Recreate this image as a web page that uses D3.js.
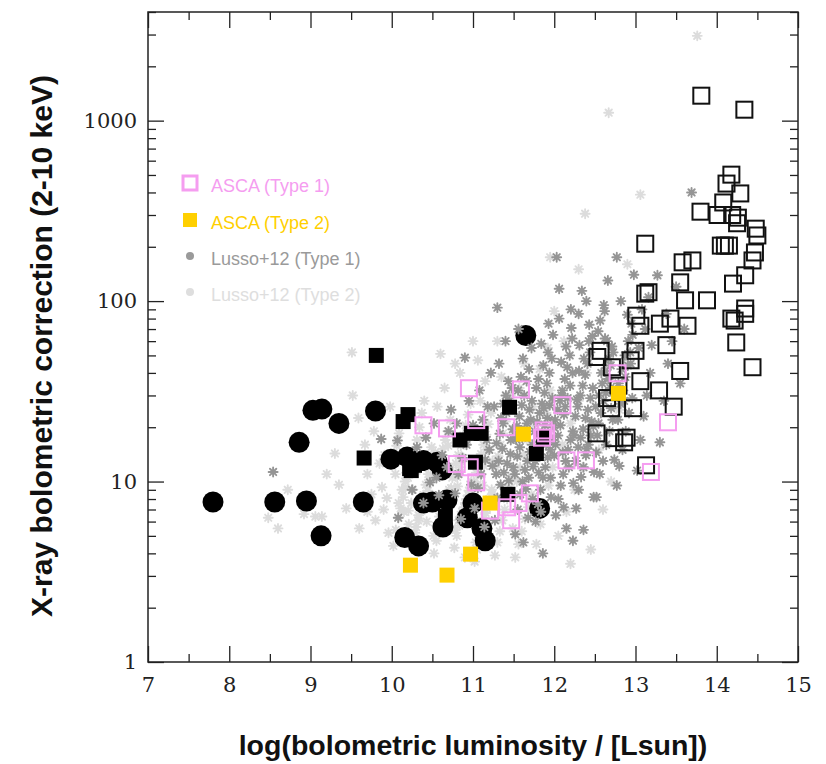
<!DOCTYPE html>
<html><head><meta charset="utf-8">
<script src="https://cdn.jsdelivr.net/npm/d3@7"></script>
<style>body{margin:0;background:#fff}svg{display:block}</style>
</head><body>
<svg id="c" width="826" height="764"></svg>
<script>
// ---------- data ----------
const xTicks = [7,8,9,10,11,12,13,14,15];
const yTicks = [1,10,100,1000];
const legendLabels = ["ASCA (Type 1)","ASCA (Type 2)","Lusso+12 (Type 1)","Lusso+12 (Type 2)"];

// Lusso+12 type 1 (dark grey asterisks)
const lussoType1 = [
[8.54,11.3],[9.87,17.2],[10.07,16.9],[10.08,6.3],
[10.25,9.0],[10.31,15.5],[10.39,7.6],[10.47,9.9],[10.42,17.5],
[10.55,10.5],[10.62,14],[10.7,19],[10.58,8.4],[10.68,12],[10.73,25],[10.52,21],
[10.78,8.6],[10.82,11],[10.87,13.5],[10.92,16],[10.8,21],[10.95,28],[10.9,48.6],[10.85,6.2],[10.98,9.6],[10.93,18.5],
[11.02,7.1],[11.06,9.2],[11.1,11],[11.15,13.2],[11.2,15],[11.04,18],[11.12,22],[11.18,26],[11.08,32],[11.22,40],[11.14,5.6],[11.24,12.2],[11.0,20.5],[11.17,17],
[11.27,6.1],[11.3,8.1],[11.34,9.6],[11.38,11.2],[11.42,12.6],[11.46,14.2],[11.29,16.3],[11.33,18.4],[11.37,21],[11.41,24],[11.45,28],[11.48,33],[11.32,45],[11.4,60],[11.3,92],[11.44,10.1],[11.36,15.2],[11.49,19.5],[11.26,26],
[11.285,11],[11.315,13],[11.345,22.5],[11.375,27],[11.405,30],[11.435,36],[11.465,17],[11.495,12],
[11.52,5.1],[11.55,7.0],[11.58,8.5],[11.61,10],[11.64,11.6],[11.67,13],[11.7,14.6],[11.73,16],[11.51,18.2],[11.54,20.3],[11.57,23],[11.6,26.5],[11.63,30],[11.66,36],[11.69,42],[11.72,55],[11.56,70],[11.65,9.1],[11.74,12.1],[11.53,17.1],[11.71,22],[11.62,4.6],[11.68,6.3],[11.59,38],
[11.515,11],[11.545,13.8],[11.575,15.5],[11.605,17.5],[11.635,19.5],[11.665,21],[11.695,25],[11.725,28],[11.555,32],[11.615,48],[11.685,10.5],[11.735,8],
[11.77,6.0],[11.8,7.5],[11.83,9.0],[11.86,10.5],[11.89,12],[11.92,13.6],[11.95,15],[11.98,17],[11.76,19],[11.79,21.5],[11.82,24],[11.85,27],[11.88,31],[11.91,35],[11.94,40],[11.97,48],[11.84,58],[11.93,75],[11.81,11.2],[11.9,16],[11.99,20],[11.87,25.5],[11.86,4.0],[11.96,8.2],[11.78,33],
[11.765,13],[11.795,14.5],[11.825,16.5],[11.855,18.5],[11.885,20.5],[11.915,22.5],[11.945,26.5],[11.975,29],[11.805,37],[11.865,44],[11.925,52],[11.985,65],[11.835,6.8],[11.955,10.5],
[12.02,6.5],[12.05,8],[12.08,9.5],[12.11,11],[12.14,13],[12.17,15],[12.2,17],[12.23,19],[12.01,22],[12.04,25],[12.07,28],[12.1,32],[12.13,37],[12.16,43],[12.19,50],[12.22,62],[12.06,80],[12.06,117],[12.03,175],[12.18,12],[12.24,18],[12.12,23.5],[12.09,30],[12.23,4.7],[12.15,5.5],[12.21,71],[12.0,13.9],
[12.015,16],[12.045,18],[12.075,20.5],[12.105,14.5],[12.135,26],[12.165,29],[12.195,34],[12.225,40],[12.085,46],[12.145,56],[12.205,90],[12.115,7.2],[12.235,9.8],
[12.27,7.1],[12.3,9],[12.33,10.6],[12.36,12],[12.39,14],[12.42,16],[12.45,18],[12.48,20.2],[12.26,23],[12.29,26],[12.32,30],[12.35,34],[12.38,39],[12.41,45],[12.44,52],[12.47,64],[12.3,85],[12.34,114],[12.4,15.2],[12.46,21.5],[12.28,28.5],[12.36,5.4],[12.49,11.3],[12.31,57],[12.43,74],
[12.265,13],[12.295,15.5],[12.325,17.5],[12.355,19.5],[12.385,22.5],[12.415,25],[12.445,29],[12.475,33],[12.305,41],[12.365,48],[12.425,60],[12.485,8.2],[12.395,100],
[12.52,8.2],[12.56,11],[12.6,13],[12.64,16],[12.68,19],[12.72,22],[12.51,26],[12.55,30],[12.59,35],[12.63,41],[12.67,48],[12.71,56],[12.54,68],[12.61,95],[12.66,130],[12.7,25.5],[12.58,40],[12.74,13.2],[12.65,60],[12.53,18],[12.69,33],[12.62,88],[12.77,175],
[12.515,14.5],[12.545,21],[12.575,24],[12.605,28],[12.635,31],[12.665,37],[12.695,44],[12.725,52],[12.565,78],[12.625,62],[12.745,30],
[12.77,9.5],[12.8,12.2],[12.84,15],[12.88,19],[12.92,24],[12.96,29],[12.79,35],[12.83,42],[12.87,50],[12.91,60],[12.95,75],[12.82,100],[12.98,140],[12.86,28],[12.94,45],[12.9,84],
[12.785,22],[12.815,27],[12.845,32],[12.875,38],[12.905,44],[12.935,52],[12.965,65],
[13.02,11.5],[13.06,17],[13.1,23],[13.14,30],[13.18,40],[13.04,55],[13.12,70],[13.08,90],[13.27,139],[13.2,57],[13.16,105],
[13.3,16.5],[13.35,28],[13.4,45],[13.45,60],[13.38,85],[13.69,400],[13.55,35],[13.6,70],[13.5,120]
];

// Lusso+12 type 2 (light grey asterisks)
const lussoType2 = [
[8.48,6.3],[8.72,9.0],[8.92,6.6],[8.6,5.5],
[9.06,6.4],[9.14,6.4],[9.3,14.3],[9.51,52],[9.35,9.6],[9.44,7.1],[9.2,11],
[9.52,30],[9.59,22.5],[9.67,16],[9.8,6.1],[9.88,9.3],[9.94,8.1],[9.7,11],[9.85,12.6],[9.6,5.5],[9.96,5.2],[9.75,8.5],[9.91,14],[9.78,19],[9.98,26],[9.9,7],[9.7,6.8],
[10.02,4.4],[10.05,5.4],[10.08,6.3],[10.11,7.1],[10.14,8.2],[10.17,9.3],[10.2,10.5],[10.23,12],[10.03,13.5],[10.06,15.8],[10.09,18.5],[10.12,22],[10.15,6.8],[10.18,11.2],[10.21,5.8],[10.24,7.6],
[10.085,7.6],[10.125,9],[10.165,10],[10.205,6.9],[10.045,11],
[10.27,4.8],[10.3,5.6],[10.33,6.5],[10.36,7.3],[10.39,8.4],[10.42,9.6],[10.45,11],[10.48,12.5],[10.28,14.5],[10.31,17],[10.34,20],[10.37,24],[10.4,28],[10.43,6],[10.46,10.2],[10.49,15.5],[10.35,4.2],[10.26,9],
[10.285,5.2],[10.325,6.1],[10.365,6.9],[10.405,7.9],[10.445,8.9],[10.485,10.5],[10.305,11.5],[10.345,13],
[10.52,4.0],[10.55,4.7],[10.58,5.3],[10.61,6],[10.64,6.7],[10.67,7.5],[10.7,8.3],[10.73,9.2],[10.51,10.2],[10.54,11.3],[10.57,12.5],[10.6,13.8],[10.63,15.2],[10.66,17],[10.69,19],[10.72,22],[10.56,26],[10.6,51],[10.65,33],[10.74,5.5],[10.53,7.8],[10.71,12],
[10.515,5.0],[10.545,5.7],[10.585,6.4],[10.625,7.1],[10.665,8],[10.705,9],[10.745,10.5],[10.535,14.5],[10.615,11.5],[10.695,15.8],
[10.77,4.3],[10.8,5.0],[10.83,5.7],[10.86,6.4],[10.89,7.2],[10.92,8.0],[10.95,8.9],[10.98,10],[10.76,11.2],[10.79,12.6],[10.82,14],[10.85,15.8],[10.88,18],[10.91,20.5],[10.94,23.5],[10.97,27],[10.84,40],[10.78,45],[10.9,3.8],[10.99,6],[10.81,9.4],
[10.785,5.4],[10.825,6.1],[10.865,6.8],[10.905,7.6],[10.945,8.4],[10.985,9.4],[10.805,10.6],[10.845,12],[10.885,13.5],[10.925,17],
[11.02,3.6],[11.05,4.2],[11.08,4.9],[11.11,5.6],[11.14,6.3],[11.17,7.1],[11.2,8],[11.23,9],[11.01,10],[11.04,11.2],[11.07,12.6],[11.1,14.2],[11.13,16],[11.16,18.2],[11.19,20.8],[11.22,24],[11.09,28],[11.15,36],[11.06,47],[11.24,13],[11.12,9.5],
[11.035,4.6],[11.075,5.3],[11.115,6],[11.155,6.7],[11.195,7.5],[11.235,8.5],[11.055,9.6],[11.095,10.8],[11.135,12.2],[11.175,15],
[11.27,3.9],[11.3,4.6],[11.33,5.3],[11.36,6.1],[11.39,7],[11.42,8],[11.45,9.2],[11.48,10.5],[11.28,12],[11.31,13.8],[11.34,16],[11.37,18.5],[11.4,21.5],[11.43,25],[11.46,30],[11.35,38],[11.3,60],[11.49,5.5],
[11.52,3.8],[11.56,4.5],[11.6,5.3],[11.64,6.2],[11.68,7.2],[11.72,8.5],[11.54,10],[11.58,12],[11.62,14],[11.66,17],[11.7,21],[11.74,26],[11.57,33],[11.63,45],
[11.78,4.5],[11.83,5.8],[11.88,7.5],[11.93,9.5],[11.98,12],[11.8,15],[11.85,19],[11.9,24],[11.95,32],[11.82,42],[11.92,55],
[12.05,5],[12.15,6.8],[12.25,9],[12.35,12],[12.1,16],[12.2,21],[12.3,28],[12.4,40],[12.12,60],[12.45,4.2],[12.0,88],[12.2,3.5],
[12.6,7],[12.7,10],[12.55,15],[12.8,25],[12.65,45],
[13.76,2950],[12.67,1107],[13.06,389],[12.38,305],[11.95,175],[12.3,150],[11.0,60],[12.9,160]
];

// black filled circles
const blackCircles = [
[7.80,7.7],[8.56,7.7],[8.95,7.8],[9.65,7.7],[9.13,5.0],[8.86,16.5],[9.03,24.8],[9.14,25.2],[9.35,21],[9.80,24.6],[9.99,13.3],
[10.16,4.9],[10.33,4.4],[10.19,13.7],[10.39,13.1],[10.56,12.8],[10.62,11.6],[10.39,7.6],[10.5,7.7],[10.68,7.9],[10.63,5.6],
[10.93,6.3],[11.0,7.6],[11.11,5.5],[11.15,4.7],[11.65,64.5],[11.82,7.1]
];

// black filled squares
const blackSquares = [
[9.81,50],[9.66,13.5],[10.14,21.5],[10.2,23.5],[10.22,11.8],[10.28,12.3],[10.24,11.5],[10.32,12.6],
[10.66,6.4],[10.84,17],[10.98,18.5],[11.1,18.5],[11.03,12.8],[11.45,25.8],[11.78,14.3],[11.87,17.6],[11.43,8.5]
];

// black open squares
const blackOpen = [
[13.81,1375],[14.34,1150],[14.18,502],[14.12,448],[14.29,395],[14.08,352],[13.80,313],[14.01,300],[14.19,300],[14.26,290],[14.25,270],
[14.48,252],[14.5,231],[14.1,203],[14.05,203],[14.15,203],[14.47,186],[14.44,168],[13.7,168],[14.35,139],[14.2,125],
[13.12,208],[13.58,164],[13.55,127],[13.16,112],[13.12,110],[13.88,101],[13.61,101],[14.18,80],[14.22,78],[14.35,91],[14.35,85],
[14.24,59],[14.44,43],[13.01,83],[13.06,73],[13.43,80],[13.64,73],[13.3,75],[13.38,57],[12.57,53],[12.53,49],[12.71,43],
[13.0,53],[12.94,47],[13.06,36],[12.79,34],[13.29,32],[13.55,41],[13.47,26],[12.65,29],[12.7,25.5],[12.97,25.5],
[12.52,18.5],[12.74,17.4],[12.86,16.5],[12.89,17.5],[13.13,12.3]
];

// ASCA type 1 (pink open squares)
const ascaType1 = [
[10.95,32.9],[11.59,32.4],[12.78,39.8],[10.39,20.5],[10.68,19.7],[11.04,21.9],[11.41,20],[12.1,26.5],[13.4,21.3],
[11.85,17.5],[11.9,18.5],[11.87,19.2],[10.8,12.5],[10.96,12],[11.04,9.9],[12.15,13.1],[12.39,13.1],[13.19,11.3],
[11.7,8.6],[11.21,6.9],[11.42,7.2],[11.56,7.6],[11.47,6.1]
];

// ASCA type 2 (yellow filled squares)
const ascaType2 = [[12.79,30.8],[11.62,18.3],[11.21,7.6],[10.23,3.44],[10.68,3.03],[10.97,3.96]];

// ---------- drawing ----------
const svg = d3.select("#c");
const L = 148, R = 798, T = 12, B = 662;
const x = d3.scaleLinear().domain([7,15]).range([L,R]);
const y = d3.scaleLog().domain([1,4000]).range([B,T]);

const COL = {pink:"#f59df0", gold:"#ffd000", dark:"#959595", light:"#dcdcdc"};

function asterisk(g, data, color){
  const r = 4.5;
  let d = "";
  for (let k=0;k<4;k++){
    const a = k*Math.PI/4, dx = r*Math.cos(a), dy = r*Math.sin(a);
    d += `M${-dx},${-dy}L${dx},${dy}`;
  }
  g.selectAll(null).data(data).enter().append("path")
    .attr("transform", p => `translate(${x(p[0])},${y(p[1])})`)
    .attr("d", d).attr("stroke", color).attr("stroke-width", 1.9).attr("fill","none")
    .attr("stroke-linecap","round");
}

const plot = svg.append("g");
// light grey cloud (beneath)
asterisk(plot.append("g"), lussoType2, COL.light);
// black circles
plot.append("g").selectAll("circle").data(blackCircles).enter().append("circle")
  .attr("cx", p => x(p[0])).attr("cy", p => y(p[1])).attr("r", 10.5).attr("fill","#000");
// dark grey cloud
asterisk(plot.append("g"), lussoType1, COL.dark);
// black filled squares
const sq = 15;
plot.append("g").selectAll("rect").data(blackSquares).enter().append("rect")
  .attr("x", p => x(p[0])-sq/2).attr("y", p => y(p[1])-sq/2).attr("width",sq).attr("height",sq).attr("fill","#000");
// black open squares
const os = 16;
plot.append("g").selectAll("rect").data(blackOpen).enter().append("rect")
  .attr("x", p => x(p[0])-os/2).attr("y", p => y(p[1])-os/2).attr("width",os).attr("height",os)
  .attr("fill","none").attr("stroke","#111").attr("stroke-width",2);
// pink squares
plot.append("g").selectAll("rect").data(ascaType1).enter().append("rect")
  .attr("x", p => x(p[0])-os/2).attr("y", p => y(p[1])-os/2).attr("width",os).attr("height",os)
  .attr("fill","none").attr("stroke",COL.pink).attr("stroke-width",2);
// yellow squares
plot.append("g").selectAll("rect").data(ascaType2).enter().append("rect")
  .attr("x", p => x(p[0])-sq/2).attr("y", p => y(p[1])-sq/2).attr("width",sq).attr("height",sq).attr("fill",COL.gold);

// ---------- axes ----------
const major = 16, minor = 8;
const xMinor = d3.range(7.5,15,1);
const yMinor = [];
[1,10,100,1000].forEach(d => { for (let k=2;k<=9;k++){ if (d*k<=4000) yMinor.push(d*k); } });

function styleAxis(g){
  g.select(".domain").remove();
  g.selectAll("line").attr("stroke","#222").attr("stroke-width",1.3);
}
const fontNum = "'DejaVu Serif', serif";

const xb = svg.append("g").attr("transform",`translate(0,${B})`)
  .call(d3.axisBottom(x).tickValues(xTicks).tickSize(-major).tickPadding(15).tickFormat(d3.format("d")));
styleAxis(xb);
xb.selectAll("text").attr("font-family",fontNum).attr("font-size",21).attr("fill","#222");
svg.append("g").attr("transform",`translate(0,${B})`)
  .call(d3.axisBottom(x).tickValues(xMinor).tickSize(-minor).tickFormat("")).call(styleAxis);
svg.append("g").attr("transform",`translate(0,${T})`)
  .call(d3.axisTop(x).tickValues(xTicks).tickSize(-major).tickFormat("")).call(styleAxis);
svg.append("g").attr("transform",`translate(0,${T})`)
  .call(d3.axisTop(x).tickValues(xMinor).tickSize(-minor).tickFormat("")).call(styleAxis);

const yl = svg.append("g").attr("transform",`translate(${L},0)`)
  .call(d3.axisLeft(y).tickValues(yTicks).tickSize(-major).tickPadding(11).tickFormat(d3.format("d")));
styleAxis(yl);
yl.selectAll("text").attr("font-family",fontNum).attr("font-size",21).attr("fill","#222");
svg.append("g").attr("transform",`translate(${L},0)`)
  .call(d3.axisLeft(y).tickValues(yMinor).tickSize(-minor).tickFormat("")).call(styleAxis);
svg.append("g").attr("transform",`translate(${R},0)`)
  .call(d3.axisRight(y).tickValues(yTicks).tickSize(-major).tickFormat("")).call(styleAxis);
svg.append("g").attr("transform",`translate(${R},0)`)
  .call(d3.axisRight(y).tickValues(yMinor).tickSize(-minor).tickFormat("")).call(styleAxis);

// frame
svg.append("rect").attr("x",L).attr("y",T).attr("width",R-L).attr("height",B-T)
  .attr("fill","none").attr("stroke","#222").attr("stroke-width",1.5);

// titles
const fontTitle = "'Liberation Sans', Arial, Helvetica, sans-serif";
svg.append("text").attr("x",(L+R)/2).attr("y",755).attr("text-anchor","middle")
  .attr("font-family",fontTitle).attr("font-weight","bold").attr("font-size",28.5).attr("fill","#111")
  .text("log(bolometric luminosity / [Lsun])");
svg.append("text").attr("transform","translate(52,346) rotate(-90)").attr("text-anchor","middle")
  .attr("font-family",fontTitle).attr("font-weight","bold").attr("font-size",30).attr("fill","#111")
  .text("X-ray bolometric correction (2-10 keV)");

// legend
const lg = svg.append("g").attr("font-family",fontTitle).attr("font-size",18);
const legendY = [183,220,256,292];
const legendCol = [COL.pink, COL.gold, "#9a9a9a", "#dedede"];
lg.append("rect").attr("x",183).attr("y",legendY[0]-7).attr("width",14).attr("height",14)
  .attr("fill","none").attr("stroke",COL.pink).attr("stroke-width",3);
lg.append("rect").attr("x",183).attr("y",legendY[1]-7).attr("width",14).attr("height",14).attr("fill",COL.gold);
lg.append("circle").attr("cx",190).attr("cy",legendY[2]).attr("r",4).attr("fill","#9a9a9a");
lg.append("circle").attr("cx",190).attr("cy",legendY[3]).attr("r",4).attr("fill","#dedede");
legendLabels.forEach((t,i) => {
  lg.append("text").attr("x",211).attr("y",legendY[i]+3).attr("dy","0.32em").attr("fill",legendCol[i]).text(t);
});
</script>
</body></html>
